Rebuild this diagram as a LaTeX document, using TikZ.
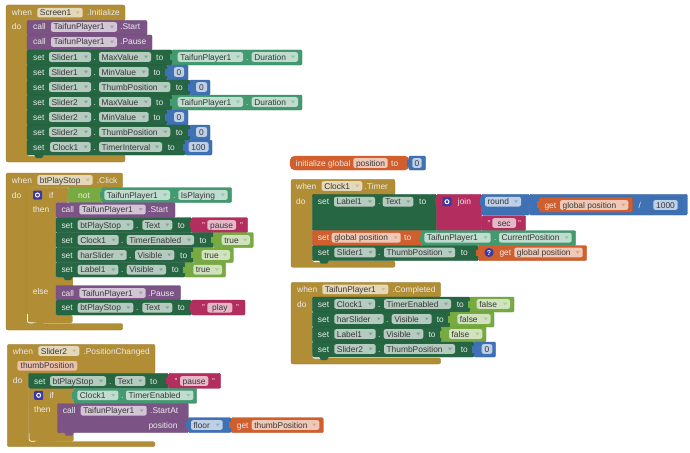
\documentclass[tikz,border=0pt]{standalone}
\usepackage{fontspec}
\setmainfont{Liberation Sans}
\definecolor{must}{HTML}{B18E35}
\definecolor{purp}{HTML}{7C5385}
\definecolor{dgrn}{HTML}{266643}
\definecolor{lgrn}{HTML}{439970}
\definecolor{blu}{HTML}{3F71B5}
\definecolor{orng}{HTML}{D05F2D}
\definecolor{magn}{HTML}{B32D5E}
\definecolor{lime}{HTML}{77AB41}
\definecolor{icon}{HTML}{3A3AA6}
\tikzset{
  lab/.style={font=\fontsize{8.4}{9}\selectfont,inner sep=0pt,anchor=base west},
  whitelab/.style={lab,text=white!92!black},
  fieldlab/.style={lab,text=black!78},
  blk/.style={rounded corners=1.2pt,line width=0.3pt},
}
% rect block
\newcommand\Bk[5]{\filldraw[blk,fill=#5,draw=#5!85!black] (#1,#3) rectangle (#2,#4);}
% value block with left tab
\newcommand\Vl[5]{\filldraw[blk,fill=#5,draw=#5!85!black] (#1,#3) rectangle (#2,#4);
  \fill[#5] (#1-2,#3+4) rectangle (#1+0.5,#3+10.5);}
% tab under a statement, with pale gap beneath
\newcommand\Nt[3]{\fill[#3] (#1+4,#2-0.5) -- (#1+6,#2+3) -- (#1+12,#2+3) -- (#1+14,#2-0.5) -- cycle;}
\newcommand\Hl[3]{\draw[white,line width=0.9pt,rounded corners=2pt] (#1,#2-5) -- (#1,#2+0.6) -- (#1+#3,#2+0.6);}
% texts
\newcommand\Tx[3]{\node[whitelab] at (#1,#2+3) {#3};}
\newcommand\Fd[5]{\fill[#5!34!white,rounded corners=2pt] (#1,#3-4.8) rectangle (#2,#3+4.8);
  \node[fieldlab] at (#1+2.4,#3+3) {#4};
  \fill[#5!58!white] (#2-7,#3-1.3) -- (#2-3,#3-1.3) -- (#2-5,#3+1.3) -- cycle;}
\newcommand\Nf[5]{\fill[#5!34!white,rounded corners=2pt] (#1,#3-4.8) rectangle (#2,#3+4.8);
  \node[lab,anchor=base,text=black!78] at ({(#1+#2)/2},#3+3) {#4};}
\newcommand\Gr[2]{\fill[icon,rounded corners=1pt] (#1-4.5,#2-4.5) rectangle (#1+4.5,#2+4.5);
  \draw[white,line width=1pt] (#1,#2) circle (2pt);}
% C-shaped event block
\newcommand\Ev[7]{\filldraw[must,draw=must!85!black,line width=0.3pt,rounded corners=2pt]
  (#1,#3) -- (#2,#3) -- (#2,#4) -- (#7,#4) -- (#7,#5) -- (#2,#5) -- (#2,#6) -- (#1,#6) -- cycle;}
\begin{document}
\begin{tikzpicture}[x=1pt,y=-1pt]
\useasboundingbox (0,0) rectangle (690,452);
\fill[white] (0,0) rectangle (690,452);

%%% Screen1.Initialize
\Ev{6}{125}{5}{21}{154.5}{162}{27}
\Tx{11.7}{12.7}{when}\Fd{37.3}{82.7}{12.7}{Screen1}{must}\Tx{87}{12.7}{.Initialize}
\Tx{11.7}{26.5}{do}
\Bk{27}{147}{20.5}{35}{purp}
\Tx{33}{27}{call}\Fd{51}{117}{27}{TaifunPlayer1}{purp}\Tx{120}{27}{.Start}
\Bk{27}{152}{35}{50}{purp}
\Tx{33}{42}{call}\Fd{51}{117}{42}{TaifunPlayer1}{purp}\Tx{120}{42}{.Pause}
% rows
\Bk{27}{172}{50}{65}{dgrn}
\Tx{33}{57}{set}\Fd{49}{91}{57}{Slider1}{dgrn}\Tx{93.3}{57}{.}\Fd{99}{151}{57}{MaxValue}{dgrn}\Tx{156}{57}{to}
\Vl{172}{302}{50}{65}{lgrn}\Fd{177.7}{243}{57}{TaifunPlayer1}{lgrn}\Tx{246}{57}{.}\Fd{251.7}{298}{57}{Duration}{lgrn}
\Bk{27}{167}{65}{80}{dgrn}
\Tx{33}{72}{set}\Fd{49}{91}{72}{Slider1}{dgrn}\Tx{93.3}{72}{.}\Fd{99}{148.7}{72}{MinValue}{dgrn}\Tx{153.3}{72}{to}
\Vl{167}{188}{65}{80}{blu}\Nf{174}{184}{72}{0}{blu}
\Bk{27}{190}{80}{95}{dgrn}
\Tx{33}{87}{set}\Fd{49}{91}{87}{Slider1}{dgrn}\Tx{93.3}{87}{.}\Fd{99}{170.3}{87}{ThumbPosition}{dgrn}\Tx{175.7}{87}{to}
\Vl{190}{210}{80}{95}{blu}\Nf{196}{207}{87}{0}{blu}
\Bk{27}{172}{95}{110}{dgrn}
\Tx{33}{102}{set}\Fd{49}{91}{102}{Slider2}{dgrn}\Tx{93.3}{102}{.}\Fd{99}{151}{102}{MaxValue}{dgrn}\Tx{156}{102}{to}
\Vl{172}{302}{95}{110}{lgrn}\Fd{177.7}{243}{102}{TaifunPlayer1}{lgrn}\Tx{246}{102}{.}\Fd{251.7}{298}{102}{Duration}{lgrn}
\Bk{27}{167}{110}{125}{dgrn}
\Tx{33}{117}{set}\Fd{49}{91}{117}{Slider2}{dgrn}\Tx{93.3}{117}{.}\Fd{99}{148.7}{117}{MinValue}{dgrn}\Tx{153.3}{117}{to}
\Vl{167}{188}{110}{125}{blu}\Nf{174}{184}{117}{0}{blu}
\Bk{27}{190}{125}{140}{dgrn}
\Tx{33}{132}{set}\Fd{49}{91}{132}{Slider2}{dgrn}\Tx{93.3}{132}{.}\Fd{99}{170.3}{132}{ThumbPosition}{dgrn}\Tx{175.7}{132}{to}
\Vl{190}{210}{125}{140}{blu}\Nf{196}{207}{132}{0}{blu}
\Hl{27.5}{155}{12}
\Bk{27}{185}{140}{155}{dgrn}
\Tx{33}{147}{set}\Fd{50}{90.7}{147}{Clock1}{dgrn}\Tx{93.3}{147}{.}\Fd{99}{162}{147}{TimerInterval}{dgrn}\Tx{167.7}{147}{to}
\Vl{185}{212}{140}{155}{blu}\Nf{188.5}{208.5}{147}{100}{blu}
\Nt{30}{155}{dgrn}

%%% btPlayStop.Click
\Ev{6}{122.7}{173}{187.5}{323.5}{330}{27}
\Tx{11.7}{180}{when}\Fd{37.3}{92.7}{180}{btPlayStop}{must}\Tx{96.7}{180}{.Click}
\Tx{11.7}{195}{do}
% if block
\fill[must,rounded corners=1.5pt] (27,187.5) rectangle (68.5,202.5);
\fill[must,rounded corners=1.5pt] (27,187.5) rectangle (55.8,323);
\fill[must] (50,277) rectangle (72.7,285.5);
\fill[must,rounded corners=1.5pt] (27,315) rectangle (72.7,323);
\draw[white,line width=0.7pt,rounded corners=2pt] (27.4,314) -- (27.4,322.8) -- (36,322.8);
\fill[must] (33,322.5) -- (35,326) -- (42,326) -- (44,322.5) -- cycle;
\Gr{37.5}{195}\Tx{49}{195}{if}
\Vl{68.5}{102}{187.5}{202.5}{lime}\Tx{78}{195}{not}
\Vl{102}{231.7}{187.5}{202.5}{lgrn}\Fd{104.3}{170}{195}{TaifunPlayer1}{lgrn}\Tx{173}{195}{.}\Fd{178.3}{227.7}{195}{IsPlaying}{lgrn}
\Tx{32.7}{209.3}{then}
\Bk{56}{175}{202.5}{217.5}{purp}
\Tx{61.3}{209.5}{call}\Fd{79.3}{145.7}{209.5}{TaifunPlayer1}{purp}\Tx{148}{209.5}{.Start}
\Bk{56}{191.7}{217.5}{232.5}{dgrn}
\Tx{61.3}{225}{set}\Fd{77.7}{133.3}{225}{btPlayStop}{dgrn}\Tx{136}{225}{.}\Fd{142.3}{172.3}{225}{Text}{dgrn}\Tx{177.7}{225}{to}
\Vl{191.7}{247.7}{217.5}{232.5}{magn}\Tx{202}{225}{"}\Nf{207.3}{236}{225}{pause}{magn}\Tx{240}{225}{"}
\Bk{56}{213.3}{232.5}{247.5}{dgrn}
\Tx{61.3}{240}{set}\Fd{77.7}{118.7}{240}{Clock1}{dgrn}\Tx{121}{240}{.}\Fd{126.7}{194}{240}{TimerEnabled}{dgrn}\Tx{199.3}{240}{to}
\Vl{213.3}{253.3}{232.5}{247.5}{lime}\Fd{221.7}{250}{240}{true}{lime}
\Bk{56}{193.3}{247.5}{262.5}{dgrn}
\Tx{61.3}{255}{set}\Fd{77.7}{126.7}{255}{harSlider}{dgrn}\Tx{129}{255}{.}\Fd{135}{174.3}{255}{Visible}{dgrn}\Tx{180}{255}{to}
\Vl{193.3}{233.3}{247.5}{262.5}{lime}\Fd{201.7}{230}{255}{true}{lime}
\Bk{56}{185}{262.5}{277}{dgrn}
\Tx{61.3}{269.7}{set}\Fd{77.7}{118.3}{269.7}{Label1}{dgrn}\Tx{121}{269.7}{.}\Fd{126.7}{166}{269.7}{Visible}{dgrn}\Tx{171.7}{269.7}{to}
\Vl{185}{225.7}{262.5}{277}{lime}\Fd{193.3}{222}{269.7}{true}{lime}
\Nt{59}{277}{dgrn}
\Tx{32.7}{291.7}{else}
\Bk{56}{180.7}{285.5}{300}{purp}
\Tx{61.3}{293}{call}\Fd{79.3}{145.7}{293}{TaifunPlayer1}{purp}\Tx{148}{293}{.Pause}
\Bk{56}{191.7}{300}{315}{dgrn}
\Tx{61.3}{307.7}{set}\Fd{77.7}{133.3}{307.7}{btPlayStop}{dgrn}\Tx{136}{307.7}{.}\Fd{142.3}{172.3}{307.7}{Text}{dgrn}\Tx{177.7}{307.7}{to}
\Vl{191.7}{245}{300}{315}{magn}\Tx{202}{307.7}{"}\Nf{207.3}{232.3}{307.7}{play}{magn}\Tx{236}{307.7}{"}

%%% Slider2.PositionChanged
\Ev{7.3}{155}{344.3}{373.3}{441.7}{446.7}{28.7}
\Tx{12.7}{351}{when}\Fd{38.3}{79.3}{351}{Slider2}{must}\Tx{83.3}{351}{.PositionChanged}
\fill[orng!40!white,rounded corners=2pt] (17.3,361) rectangle (77.3,370.5);
\node[fieldlab] at (20.5,368.7) {thumbPosition};
\Tx{12.7}{380.3}{do}
\fill[must,rounded corners=1.5pt] (28.7,388) rectangle (74.5,403.3);
\fill[must,rounded corners=1.5pt] (28.7,388) rectangle (57.5,441.5);
\fill[must,rounded corners=1.5pt] (28.7,432) rectangle (73.7,441.5);
\draw[white,line width=0.7pt,rounded corners=2pt] (29.1,433) -- (29.1,441.2) -- (38,441.2);
\fill[must] (35,441) -- (37,444.5) -- (44,444.5) -- (46,441) -- cycle;
\Bk{28.7}{168.3}{373.3}{388.3}{dgrn}
\Tx{34}{381}{set}\Fd{50}{106}{381}{btPlayStop}{dgrn}\Tx{109}{381}{.}\Fd{115}{145.3}{381}{Text}{dgrn}\Tx{150}{381}{to}
\Vl{168.3}{220.7}{373.3}{388.3}{magn}\Tx{174.5}{381}{"}\Nf{180}{208.3}{381}{pause}{magn}\Tx{212}{381}{"}
\Gr{38.7}{395.3}\Tx{49.3}{395.3}{if}
\Vl{74}{196.7}{388.3}{403.3}{lgrn}\Fd{77.3}{118.3}{395.3}{Clock1}{lgrn}\Tx{121}{395.3}{.}\Fd{126}{193.3}{395.3}{TimerEnabled}{lgrn}
\Tx{34}{409.7}{then}
\Bk{57.3}{188.3}{403.3}{432.7}{purp}
\Tx{62.7}{410.7}{call}\Fd{80.7}{146.7}{410.7}{TaifunPlayer1}{purp}\Tx{150}{410.7}{.StartAt}
\Tx{148.3}{425}{position}
\Nt{60}{432.7}{purp}
\Vl{188.3}{231}{417.7}{432.7}{blu}\Fd{191}{222.7}{425}{floor}{blu}
\Vl{231}{323.3}{417.7}{432.7}{orng}\Tx{236.7}{425}{get}\Fd{251.7}{319.3}{425}{thumbPosition}{orng}

%%% initialize global
\filldraw[orng,rounded corners=5pt] (290,156) rectangle (409.5,170);
\Tx{295.7}{163}{initialize global}
\Nf{353.3}{387.7}{163}{position}{orng}\Tx{391}{163}{to}
\Vl{409}{425.7}{156}{170}{blu}\Nf{412.3}{421.7}{163}{0}{blu}

%%% Clock1.Timer
\Ev{291}{395}{179.3}{195}{261}{267.3}{312.3}
\Tx{296}{186}{when}\Fd{321.7}{362.3}{186}{Clock1}{must}\Tx{364.3}{186}{.Timer}
\Tx{296}{201}{do}
\Bk{312.3}{436.7}{194.3}{230.7}{dgrn}
\Tx{317.7}{201.7}{set}\Fd{334}{375}{201.7}{Label1}{dgrn}\Tx{378}{201.7}{.}\Fd{382.7}{413.3}{201.7}{Text}{dgrn}\Tx{419}{201.7}{to}
\Vl{436.7}{481.7}{194.3}{230.7}{magn}\Gr{447}{201.7}\Tx{457.7}{201.7}{join}
\Vl{481.7}{529.3}{194.3}{215}{blu}\Fd{485}{521}{201.7}{round}{blu}
\Vl{529.3}{687.3}{194.3}{215}{blu}
\Vl{539}{632.7}{197.3}{212}{orng}\Tx{544.3}{205}{get}\Fd{560}{628.3}{205}{global position}{orng}
\Tx{638.3}{205}{/}
\filldraw[blu!85!black,line width=0.3pt,fill=blu,rounded corners=1.2pt] (650.7,197.3) rectangle (681.7,212);
\fill[blu] (648.7,201) rectangle (651,207.5);
\Nf{653.3}{677.7}{205}{1000}{blu}
\Vl{481.7}{525.7}{215.7}{230.7}{magn}\Tx{487.3}{223}{"}\Nf{492.3}{516}{223}{sec}{magn}\Tx{518}{223}{"}
\Bk{312.3}{421.7}{230.7}{245.7}{orng}
\Tx{317.7}{237.7}{set}\Fd{331.7}{400.7}{237.7}{global position}{orng}\Tx{404}{237.7}{to}
\Vl{421.7}{575.7}{230.7}{245.7}{lgrn}\Fd{424.3}{490.7}{237.7}{TaifunPlayer1}{lgrn}\Tx{494}{237.7}{.}\Fd{499}{571.7}{237.7}{CurrentPosition}{lgrn}
\Hl{312.8}{261}{12}
\Bk{312.3}{478.3}{245.7}{260.7}{dgrn}
\Tx{317.7}{252.5}{set}\Fd{334.3}{375.7}{252.5}{Slider1}{dgrn}\Tx{378}{252.5}{.}\Fd{384}{455}{252.5}{ThumbPosition}{dgrn}\Tx{460.7}{252.5}{to}
\Vl{478.3}{586.7}{245.7}{260.7}{orng}
\fill[icon] (489,252.5) circle (4.6pt);
\node[lab,anchor=base,text=white,font=\fontsize{7}{8}\selectfont\bfseries] at (489,255) {?};
\Tx{499.3}{252.5}{get}\Fd{514.3}{582.7}{252.5}{global position}{orng}
\Nt{315}{260.7}{dgrn}

%%% TaifunPlayer1.Completed
\Ev{291}{440.7}{282.3}{297}{358}{364}{312.3}
\Tx{297}{289.3}{when}\Fd{322.3}{388.3}{289.3}{TaifunPlayer1}{must}\Tx{392.3}{289.3}{.Completed}
\Tx{297}{304}{do}
\Bk{312.3}{470}{297}{312}{dgrn}
\Tx{317.7}{304}{set}\Fd{334.3}{375}{304}{Clock1}{dgrn}\Tx{378}{304}{.}\Fd{384}{451}{304}{TimerEnabled}{dgrn}\Tx{456.7}{304}{to}
\Vl{470}{514}{297}{312}{lime}\Fd{476.7}{510}{304}{false}{lime}
\Bk{312.3}{450}{312}{327}{dgrn}
\Tx{317.7}{319}{set}\Fd{334.3}{383.7}{319}{harSlider}{dgrn}\Tx{386}{319}{.}\Fd{391.7}{431.7}{319}{Visible}{dgrn}\Tx{436.7}{319}{to}
\Vl{450}{494}{312}{327}{lime}\Fd{457.3}{490.7}{319}{false}{lime}
\Bk{312.3}{441.7}{327}{342}{dgrn}
\Tx{317.7}{334}{set}\Fd{334.3}{375.7}{334}{Label1}{dgrn}\Tx{378}{334}{.}\Fd{383.7}{423.3}{334}{Visible}{dgrn}\Tx{428.3}{334}{to}
\Vl{441.7}{486}{327}{342}{lime}\Fd{449}{482.3}{334}{false}{lime}
\Hl{312.8}{357.5}{12}
\Bk{312.3}{474}{342}{357}{dgrn}
\Tx{317.7}{349}{set}\Fd{334.3}{375.7}{349}{Slider2}{dgrn}\Tx{378}{349}{.}\Fd{384}{455}{349}{ThumbPosition}{dgrn}\Tx{460.7}{349}{to}
\Vl{474}{495.7}{342}{357}{blu}\Nf{481.7}{492.3}{349}{0}{blu}
\Nt{315}{357}{dgrn}
\end{tikzpicture}
\end{document}
